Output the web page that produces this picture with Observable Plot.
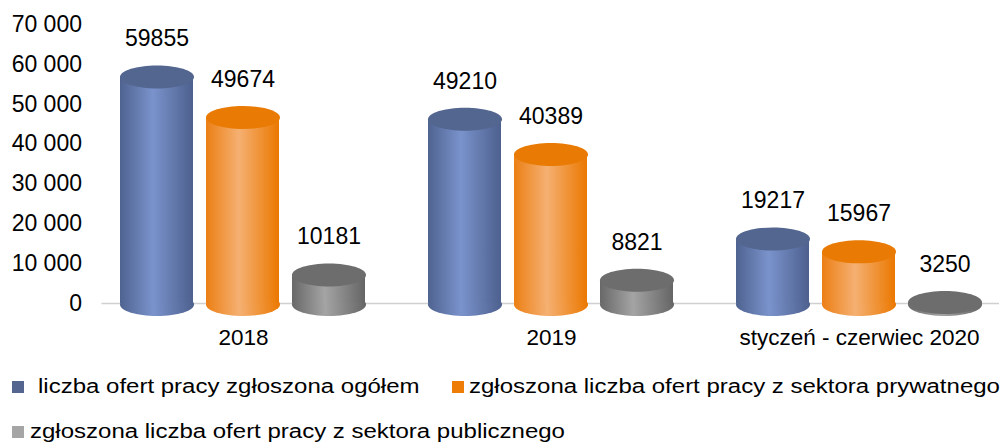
<!DOCTYPE html>
<html>
<head>
<meta charset="utf-8">
<script src="https://cdn.jsdelivr.net/npm/d3@7"></script>
<script src="https://cdn.jsdelivr.net/npm/@observablehq/plot@0.6"></script>
<style>
  html, body { margin: 0; padding: 0; background: #fff; overflow: hidden; }
  body { width: 1003px; height: 444px; font-family: "Liberation Sans", Arial, sans-serif; }
  #legend { position: relative; width: 1003px; margin-top: 14px; font-size: 20px; line-height: 45px; color: #000; }
  .row { height: 45px; white-space: nowrap; position: relative; }
  .item { position: absolute; top: 0; height: 45px; display: flex; align-items: center; }
  .sw { display: inline-block; width: 12px; height: 12px; }
  .lab { display: inline-block; transform: scaleX(1.2); transform-origin: left center; }
</style>
</head>
<body>
<svg width="0" height="0" style="position:absolute">
  <defs>
    <linearGradient id="gBlue" x1="0" x2="1" y1="0" y2="0">
      <stop offset="0" stop-color="#4f6390"/>
      <stop offset="0.45" stop-color="#7a93cc"/>
      <stop offset="1" stop-color="#4d608e"/>
    </linearGradient>
    <linearGradient id="gOrange" x1="0" x2="1" y1="0" y2="0">
      <stop offset="0" stop-color="#ec7f14"/>
      <stop offset="0.45" stop-color="#f5b072"/>
      <stop offset="1" stop-color="#eb7800"/>
    </linearGradient>
    <linearGradient id="gGray" x1="0" x2="1" y1="0" y2="0">
      <stop offset="0" stop-color="#686868"/>
      <stop offset="0.45" stop-color="#a4a4a4"/>
      <stop offset="1" stop-color="#656565"/>
    </linearGradient>
  </defs>
</svg>
<div id="chart"></div>
<div id="legend"></div>
<script>
// ---- data ----
const groups = ["2018", "2019", "styczeń - czerwiec 2020"];
const seriesNames = [
  "liczba ofert pracy zgłoszona ogółem",
  "zgłoszona liczba ofert pracy z sektora prywatnego",
  "zgłoszona liczba ofert pracy z sektora publicznego"
];
const totalOffers = [59855, 49210, 19217];
const privateOffers = [49674, 40389, 15967];
const publicOffers = [10181, 8821, 3250];
const yTickValues = [0, 10000, 20000, 30000, 40000, 50000, 60000, 70000];
const yTickLabels = ["0", "10 000", "20 000", "30 000", "40 000", "50 000", "60 000", "70 000"];

// ---- styles ----
const bodyFills = ["url(#gBlue)", "url(#gOrange)", "url(#gGray)"];
const topFills = ["#53668f", "#e97b04", "#6d6d6d"];
const swatchFills = ["#54668f", "#ed7d06", "#a5a5a5"];
const baselineInsets = [[-11.5, -24], [-24, -24], [-24, -10]];

const seriesValues = [totalOffers, privateOffers, publicOffers];
const table = [];
groups.forEach((g, gi) => seriesValues.forEach((vals, si) =>
  table.push({group: g, series: seriesNames[si], si, value: vals[gi]})));

function ellipseSymbol(rx, ry) {
  const k = 0.5522847;
  return {
    draw(ctx) {
      ctx.moveTo(rx, 0);
      ctx.bezierCurveTo(rx, ry * k, rx * k, ry, 0, ry);
      ctx.bezierCurveTo(-rx * k, ry, -rx, ry * k, -rx, 0);
      ctx.bezierCurveTo(-rx, -ry * k, -rx * k, -ry, 0, -ry);
      ctx.bezierCurveTo(rx * k, -ry, rx, -ry * k, rx, 0);
      ctx.closePath();
    }
  };
}
const ell = ellipseSymbol(37, 11.5);

const baseMarks = groups.map((g, gi) =>
  Plot.ruleY([{group: g}], {fx: "group", y: () => 0, stroke: "#d0d0d0", strokeWidth: 1.5,
    insetLeft: baselineInsets[gi][0], insetRight: baselineInsets[gi][1]}));

const cylMarks = [];
seriesNames.forEach((s, si) => {
  const d = table.filter(r => r.si === si);
  cylMarks.push(
    Plot.dot(d, {fx: "group", x: "series", y: () => 0, symbol: ell, r: 5, fill: bodyFills[si], stroke: "none", dy: 1}),
    Plot.barY(d, {fx: "group", x: "series", y: "value", fill: bodyFills[si], insetTop: 12}),
    Plot.dot(d, {fx: "group", x: "series", y: "value", symbol: ell, r: 5, fill: topFills[si], stroke: "none", dy: 12})
  );
});

const plot = Plot.plot({
  width: 1003,
  height: 350,
  marginTop: 24,
  marginBottom: 47,
  marginLeft: 100,
  marginRight: 3,
  style: {fontFamily: "'Liberation Sans', Arial, sans-serif", fontSize: "22px", color: "#000", background: "#fff", overflow: "visible"},
  fx: {domain: groups, range: [111.5, 990.5], paddingInner: 0.155, paddingOuter: 0, label: null},
  x: {domain: seriesNames, paddingInner: 0.15, paddingOuter: 0.075, axis: null},
  y: {domain: [0, 70000], label: null},
  marks: [
    ...baseMarks,
    Plot.axisY({ticks: yTickValues, tickFormat: (d) => yTickLabels[yTickValues.indexOf(d)], tickSize: 0, tickPadding: 31.5, fontSize: 23, label: null}),
    Plot.axisFx({anchor: "bottom", tickSize: 0, tickPadding: 26, fontSize: 22.5, label: null}),
    ...cylMarks,
    Plot.text(table, {fx: "group", x: "series", y: "value", text: d => String(d.value), dy: -26, lineAnchor: "middle", fontSize: 23, fill: "#000"})
  ]
});
document.getElementById("chart").appendChild(plot);

// ---- legend ----
const legend = d3.select("#legend");
const legendLayout = [{row: 0, left: 12, gap: 14}, {row: 0, left: 452, gap: 5}, {row: 1, left: 12, gap: 6}];
const rows = [legend.append("div").attr("class", "row"), legend.append("div").attr("class", "row")];
seriesNames.forEach((s, i) => {
  const L = legendLayout[i];
  const it = rows[L.row].append("div").attr("class", "item").style("left", L.left + "px");
  it.append("span").attr("class", "sw").style("background", swatchFills[i]).style("margin-right", L.gap + "px");
  it.append("span").attr("class", "lab").text(s);
});
</script>
</body>
</html>
